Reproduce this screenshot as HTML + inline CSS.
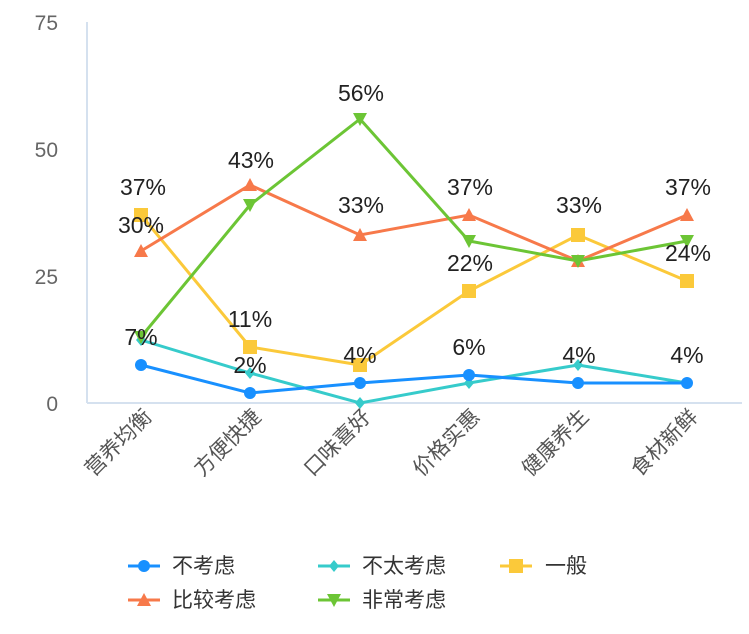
<!DOCTYPE html>
<html><head><meta charset="utf-8"><style>
body{margin:0;background:#fff}
svg text{font-family:"Liberation Sans","Noto Sans CJK SC",sans-serif}
</style></head><body>
<svg width="749" height="629" viewBox="0 0 749 629" xmlns="http://www.w3.org/2000/svg">
<g fill="#666" font-size="21" text-anchor="end">
<text x="58" y="30">75</text><text x="58" y="157">50</text><text x="58" y="284">25</text><text x="58" y="411">0</text>
</g>
<line x1="87" y1="22" x2="87" y2="403" stroke="#d5e1ef" stroke-width="2"/>
<line x1="87" y1="403" x2="742" y2="403" stroke="#d5e1ef" stroke-width="2"/>
<g fill="#555" font-size="21" text-anchor="end">
<text transform="translate(153,418) rotate(-45)">营养均衡</text>
<text transform="translate(262,418) rotate(-45)">方便快捷</text>
<text transform="translate(372,418) rotate(-45)">口味喜好</text>
<text transform="translate(481,418) rotate(-45)">价格实惠</text>
<text transform="translate(590,418) rotate(-45)">健康养生</text>
<text transform="translate(699,418) rotate(-45)">食材新鲜</text>
</g>
<polyline fill="none" stroke="#36cbcb" stroke-width="3" points="141,340 250,373 360,403 469,383 578,365 687,383"/>
<g fill="#36cbcb">
<path d="M141,334l5,6l-5,6l-5,-6z"/><path d="M250,367l5,6l-5,6l-5,-6z"/><path d="M360,397l5,6l-5,6l-5,-6z"/><path d="M469,377l5,6l-5,6l-5,-6z"/><path d="M578,359l5,6l-5,6l-5,-6z"/><path d="M687,377l5,6l-5,6l-5,-6z"/>
</g>
<polyline fill="none" stroke="#1890ff" stroke-width="3" points="141,365 250,393 360,383 469,375 578,383 687,383"/>
<g fill="#1890ff">
<circle cx="141" cy="365" r="6"/><circle cx="250" cy="393" r="6"/><circle cx="360" cy="383" r="6"/><circle cx="469" cy="375" r="6"/><circle cx="578" cy="383" r="6"/><circle cx="687" cy="383" r="6"/>
</g>
<polyline fill="none" stroke="#fbc93a" stroke-width="3" points="141,215 250,347 360,365 469,291 578,235 687,281"/>
<g fill="#fbc93a">
<rect x="134" y="208" width="14" height="14"/><rect x="243" y="340" width="14" height="14"/><rect x="353" y="358" width="14" height="14"/><rect x="462" y="284" width="14" height="14"/><rect x="571" y="228" width="14" height="14"/><rect x="680" y="274" width="14" height="14"/>
</g>
<polyline fill="none" stroke="#f7794a" stroke-width="3" points="141,251 250,185 360,235 469,215 578,261 687,215"/>
<g fill="#f7794a">
<path d="M141,244l7,13h-14z"/><path d="M250,178l7,13h-14z"/><path d="M360,228l7,13h-14z"/><path d="M469,208l7,13h-14z"/><path d="M578,254l7,13h-14z"/><path d="M687,208l7,13h-14z"/>
</g>
<polyline fill="none" stroke="#6cc535" stroke-width="3" points="141,337 250,205 360,119 469,241 578,261 687,241"/>
<g fill="#6cc535">
<path d="M141,344l7,-13h-14z"/><path d="M250,212l7,-13h-14z"/><path d="M360,126l7,-13h-14z"/><path d="M469,248l7,-13h-14z"/><path d="M578,268l7,-13h-14z"/><path d="M687,248l7,-13h-14z"/>
</g>
<g fill="#222" font-size="23" text-anchor="middle">
<text x="143" y="195">37%</text><text x="141" y="233">30%</text><text x="251" y="168">43%</text><text x="361" y="101">56%</text><text x="361" y="213">33%</text><text x="470" y="195">37%</text><text x="579" y="213">33%</text><text x="688" y="195">37%</text><text x="470" y="271">22%</text><text x="688" y="261">24%</text><text x="250" y="327">11%</text><text x="360" y="363">4%</text><text x="469" y="355">6%</text><text x="579" y="363">4%</text><text x="687" y="363">4%</text><text x="141" y="345">7%</text><text x="250" y="373">2%</text>
</g>
<g font-size="21" fill="#333">
<line x1="128" y1="566" x2="160" y2="566" stroke="#1890ff" stroke-width="3"/><circle cx="144" cy="566" r="6" fill="#1890ff"/><text x="172" y="573">不考虑</text>
<line x1="318" y1="566" x2="350" y2="566" stroke="#36cbcb" stroke-width="3"/><path d="M334,560l5,6l-5,6l-5,-6z" fill="#36cbcb"/><text x="362" y="573">不太考虑</text>
<line x1="500" y1="566" x2="532" y2="566" stroke="#fbc93a" stroke-width="3"/><rect x="509" y="559" width="14" height="14" fill="#fbc93a"/><text x="545" y="573">一般</text>
<line x1="128" y1="600" x2="160" y2="600" stroke="#f7794a" stroke-width="3"/><path d="M144,593l7,13h-14z" fill="#f7794a"/><text x="172" y="607">比较考虑</text>
<line x1="318" y1="600" x2="350" y2="600" stroke="#6cc535" stroke-width="3"/><path d="M334,607l7,-13h-14z" fill="#6cc535"/><text x="362" y="607">非常考虑</text>
</g>
</svg>
</body></html>
